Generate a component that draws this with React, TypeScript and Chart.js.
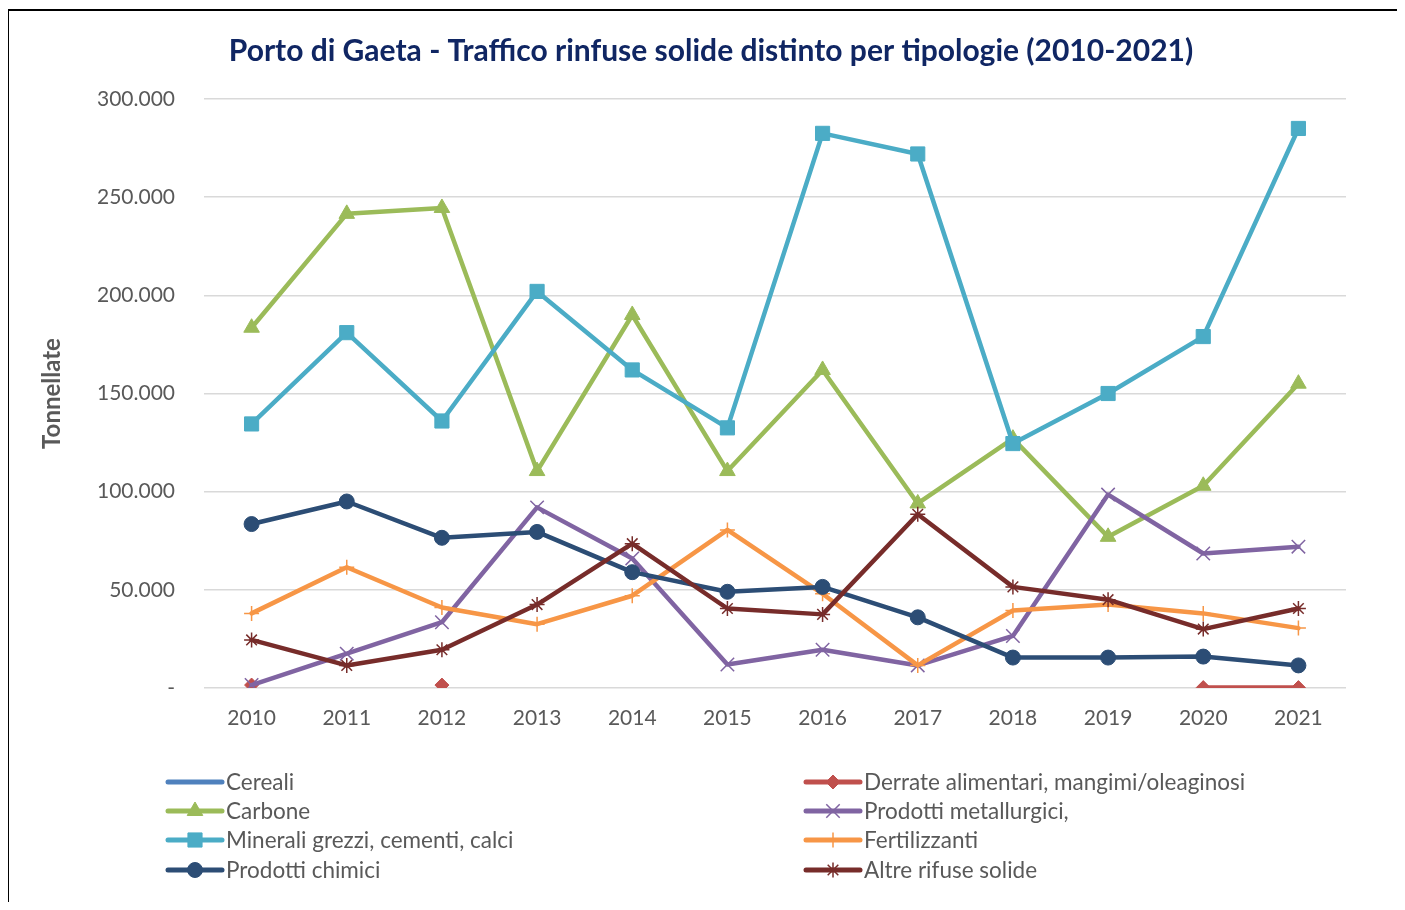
import React, { useEffect, useRef } from "react";
import { Chart, registerables } from "chart.js";
import { drawPoint } from "chart.js/helpers";

Chart.register(...registerables);

const TITLE = "Porto di Gaeta - Traffico rinfuse solide distinto per tipologie (2010-2021)";
const Y_TITLE = "Tonnellate";
const YEARS = ["2010", "2011", "2012", "2013", "2014", "2015", "2016", "2017", "2018", "2019", "2020", "2021"];

const cereali: (number | null)[] = [null, null, null, null, null, null, null, null, null, null, null, null];
const derrate: (number | null)[] = [1500, null, 1500, null, null, null, null, null, null, null, 200, 200];
const carbone = [183500, 241500, 244500, 110500, 190000, 110500, 162000, 94000, 127000, 77000, 103000, 155000];
const metallurgici = [1500, 17500, 33500, 92000, 66000, 12000, 19500, 11500, 26500, 98500, 68500, 72000];
const minerali = [134500, 181000, 136000, 202000, 162000, 132500, 282500, 272000, 124500, 150000, 179000, 285000];
const fertilizzanti = [38000, 61500, 41000, 32500, 47000, 80500, 48000, 11500, 39500, 42500, 38000, 30500];
const chimici = [83500, 95000, 76500, 79500, 59000, 49000, 51500, 36000, 15500, 15500, 16000, 11500];
const altre = [24500, 11500, 19500, 42500, 73500, 40500, 37500, 88500, 51500, 45000, 30000, 40500];

const SERIES_NAMES = [
  "Cereali",
  "Derrate alimentari, mangimi/oleaginosi",
  "Carbone",
  "Prodotti metallurgici,",
  "Minerali grezzi, cementi, calci",
  "Fertilizzanti",
  "Prodotti chimici",
  "Altre rifuse solide",
];
const SERIES_DATA = [cereali, derrate, carbone, metallurgici, minerali, fertilizzanti, chimici, altre];
const SERIES_COLORS = ["#4F81BD", "#C0504D", "#9BBB59", "#8064A2", "#4BACC6", "#F79646", "#2C4D75", "#772C2A"];
const SERIES_MARKERS: (string | false)[] = [false, "rectRot", "triangle", "crossRot", "rect", "cross", "circle", "star"];
const MARKER_RADIUS = [0, 7, 9, 9.5, 10, 7.5, 7.5, 7.5];
const MARKER_FILLED = [false, true, true, false, true, false, true, false];

const FONT = "Lato, 'Open Sans', sans-serif";
const TEXT_COLOR = "#595959";

const titleLegendPlugin = {
  id: "titleLegend",
  afterDraw(chart: any) {
    const ctx = chart.ctx;
    ctx.save();
    ctx.fillStyle = "#102663";
    ctx.font = `bold 30px ${FONT}`;
    ctx.textAlign = "center";
    ctx.textBaseline = "middle";
    ctx.fillText(TITLE, 703, 43);

    const rowsY = [774, 803, 832, 862];
    const colX = [160, 798];
    for (let i = 0; i < SERIES_NAMES.length; i++) {
      const col = i % 2;
      const row = Math.floor(i / 2);
      const x0 = colX[col];
      const y = rowsY[row];
      const color = SERIES_COLORS[i];
      ctx.strokeStyle = color;
      ctx.lineWidth = 5;
      ctx.lineCap = "round";
      ctx.beginPath();
      ctx.moveTo(x0, y);
      ctx.lineTo(x0 + 54, y);
      ctx.stroke();
      const m = SERIES_MARKERS[i];
      if (m) {
        ctx.fillStyle = color;
        ctx.strokeStyle = color;
        ctx.lineWidth = MARKER_FILLED[i] ? 1 : 1.5;
        ctx.lineCap = "butt";
        drawPoint(ctx, { pointStyle: m, radius: MARKER_RADIUS[i], rotation: 0, borderWidth: ctx.lineWidth } as any, x0 + 27, y);
      }
      ctx.fillStyle = TEXT_COLOR;
      ctx.font = `22.5px ${FONT}`;
      ctx.textAlign = "left";
      ctx.textBaseline = "middle";
      ctx.fillText(SERIES_NAMES[i], x0 + 58, y + 1);
    }
    ctx.restore();
  },
};

function formatThousands(v: number): string {
  if (v === 0) return "-";
  return Math.round(v).toString().replace(/\B(?=(\d{3})+(?!\d))/g, ".");
}

export default function App() {
  const canvasRef = useRef<HTMLCanvasElement | null>(null);

  useEffect(() => {
    if (!canvasRef.current) return;
    const datasets = SERIES_NAMES.map((name, i) => ({
      label: name,
      data: SERIES_DATA[i],
      borderColor: SERIES_COLORS[i],
      backgroundColor: SERIES_COLORS[i],
      pointBackgroundColor: SERIES_COLORS[i],
      pointBorderColor: SERIES_COLORS[i],
      borderWidth: 4.5,
      pointStyle: SERIES_MARKERS[i] || "circle",
      pointRadius: SERIES_MARKERS[i] ? MARKER_RADIUS[i] : 0,
      pointBorderWidth: MARKER_FILLED[i] ? 1 : 1.5,
      pointHoverRadius: SERIES_MARKERS[i] ? MARKER_RADIUS[i] : 0,
      tension: 0,
      spanGaps: false,
      fill: false,
      order: -i,
      borderCapStyle: "round" as const,
      borderJoinStyle: "round" as const,
    }));

    const chart = new Chart(canvasRef.current, {
      type: "line",
      data: { labels: YEARS, datasets },
      plugins: [titleLegendPlugin],
      options: {
        animation: false,
        responsive: false,
        maintainAspectRatio: false,
        layout: { padding: { top: 91, right: 51, bottom: 0, left: 0 } },
        plugins: {
          legend: { display: false },
          title: { display: false },
          tooltip: { enabled: false },
        },
        scales: {
          x: {
            type: "category",
            offset: true,
            grid: { display: false, drawTicks: false },
            border: { display: false },
            ticks: {
              color: TEXT_COLOR,
              font: { family: FONT, size: 21 },
              padding: 18,
              maxRotation: 0,
              autoSkip: false,
            },
            afterFit(scale: any) {
              scale.height = 214;
            },
          },
          y: {
            min: 0,
            max: 300000,
            grid: { color: "#D9D9D9", lineWidth: 1.5, drawTicks: false },
            border: { display: false },
            ticks: {
              stepSize: 50000,
              color: TEXT_COLOR,
              font: { family: FONT, size: 21 },
              padding: 29,
              callback: (v: any) => formatThousands(Number(v)),
            },
            title: {
              display: true,
              text: Y_TITLE,
              color: TEXT_COLOR,
              font: { family: FONT, size: 24, weight: "bold" },
              padding: { top: 30, bottom: 0 },
            },
            afterFit(scale: any) {
              scale.width = 196;
            },
          },
        },
      } as any,
    });
    return () => chart.destroy();
  }, []);

  return (
    <div style={{ position: "relative", width: 1389, height: 894, background: "#fff" }}>
      <canvas ref={canvasRef} width={1389} height={894} style={{ position: "absolute", left: 0, top: 0, width: 1389, height: 894 }} />
      <div
        style={{
          position: "absolute",
          left: -1,
          top: 1,
          width: 1390,
          height: 893,
          borderLeft: "2px solid #000",
          borderTop: "2px solid #000",
          boxSizing: "border-box",
          pointerEvents: "none",
        }}
      />
    </div>
  );
}
